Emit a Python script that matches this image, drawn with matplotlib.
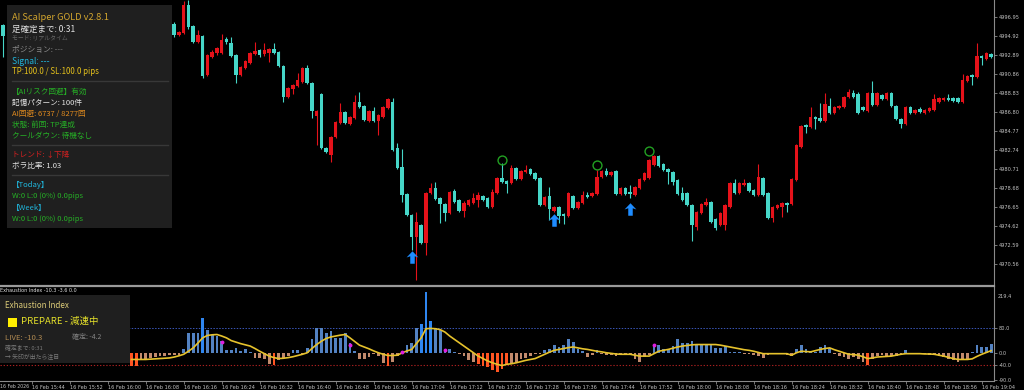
import numpy as np
import matplotlib
matplotlib.use('Agg')
import matplotlib.pyplot as plt
from matplotlib.patches import Rectangle
from matplotlib.path import Path
from matplotlib.lines import Line2D

plt.rcParams['font.family'] = ['Noto Sans CJK JP', 'DejaVu Sans']

nan = float('nan')

# ---------------- data ----------------
first_bar = -6          # bar index relative to 16 Feb 15:44 (1-minute bars)
HID = [nan] * 35        # bars hidden behind the info panel

opens = [4996.10] + HID + [
    4996.20, 4995.04, 4995.25, 4998.24, 4995.99, 4994.29, 4994.93, 4990.76, 4992.68, 4993.11,
    4993.11, 4994.61, 4994.18, 4992.90, 4990.76, 4991.51, 4992.04, 4993.00, 4993.43, 4993.00,
    4993.11, 4993.54, 4993.22, 4991.72, 4988.41, 4989.27, 4989.59, 4990.01, 4991.51, 4989.91,
    4986.38, 4988.73, 4982.96, 4982.22, 4984.14, 4985.63, 4986.81, 4985.52, 4986.16, 4987.88,
    4987.45, 4985.84, 4986.91, 4985.84, 4986.27, 4987.23, 4987.88, 4982.96, 4980.93, 4978.05,
    4975.81, 4973.46, 4974.74, 4972.82, 4978.16, 4978.70, 4977.63, 4976.98, 4976.02, 4978.38,
    4977.41, 4976.24, 4976.88, 4977.09, 4977.41, 4977.84, 4977.63, 4976.66, 4978.16, 4979.76,
    4979.44, 4979.23, 4980.82, 4979.65, 4980.40, 4980.72, 4980.29, 4979.76, 4976.88, 4977.84,
    4976.24, 4976.66, 4975.91, 4975.70, 4977.84, 4976.55, 4977.09, 4977.94, 4977.84, 4978.05,
    4979.86, 4980.50, 4980.08, 4980.50, 4978.05, 4978.70, 4978.27, 4977.94, 4978.70, 4979.55,
    4979.76, 4981.15, 4982.11, 4981.25, 4980.72, 4980.40, 4979.55, 4978.16, 4978.16, 4976.88,
    4974.52, 4976.02, 4976.88, 4977.20, 4975.38, 4974.74, 4974.74, 4976.66, 4979.23, 4978.16,
    4979.01, 4979.23, 4978.48, 4977.94, 4979.76, 4978.16, 4975.49, 4976.55, 4976.66, 4977.09,
    4976.98, 4979.55, 4983.07, 4985.42, 4985.20, 4986.27, 4986.16, 4985.84, 4987.45, 4986.70,
    4987.23, 4987.34, 4988.41, 4988.84, 4988.73, 4987.34, 4986.91, 4988.84, 4987.55, 4988.62,
    4988.20, 4988.84, 4987.45, 4986.06, 4985.52, 4987.34, 4986.70, 4987.13, 4986.70, 4986.91,
    4987.02, 4987.88, 4988.09, 4988.31, 4988.31, 4988.31, 4987.88, 4990.12, 4990.76, 4990.55,
    4992.79, 4992.47, 4993.00]

highs = [4996.20] + HID + [
    4996.42, 4995.46, 4998.66, 4998.77, 4996.10, 4995.57, 4995.04, 4993.00, 4993.43, 4993.75,
    4995.14, 4994.82, 4994.82, 4993.00, 4991.72, 4992.36, 4993.22, 4994.29, 4993.54, 4994.18,
    4993.64, 4994.18, 4993.32, 4991.83, 4989.48, 4989.80, 4990.97, 4991.61, 4991.83, 4990.01,
    4987.02, 4988.84, 4983.07, 4984.25, 4985.84, 4987.77, 4986.91, 4986.38, 4988.62, 4988.94,
    4987.55, 4987.02, 4987.34, 4986.59, 4987.45, 4988.31, 4988.31, 4983.50, 4982.86, 4978.16,
    4975.91, 4976.13, 4974.84, 4978.27, 4979.23, 4979.34, 4977.73, 4977.09, 4978.38, 4978.59,
    4977.52, 4977.30, 4977.52, 4978.16, 4978.27, 4977.94, 4977.73, 4978.59, 4979.86, 4981.36,
    4979.55, 4981.15, 4980.93, 4980.61, 4981.15, 4980.82, 4980.40, 4979.86, 4977.84, 4978.80,
    4976.77, 4976.77, 4976.02, 4978.27, 4977.94, 4977.30, 4978.38, 4978.27, 4978.27, 4980.61,
    4980.61, 4980.82, 4980.50, 4980.61, 4978.80, 4978.80, 4979.01, 4978.91, 4979.76, 4980.40,
    4981.79, 4982.22, 4982.22, 4981.36, 4980.82, 4980.50, 4979.65, 4978.80, 4978.27, 4976.98,
    4976.24, 4977.09, 4977.63, 4977.30, 4975.49, 4976.13, 4976.98, 4979.33, 4979.65, 4979.33,
    4979.65, 4979.33, 4978.59, 4981.25, 4979.86, 4978.27, 4976.77, 4976.98, 4977.20, 4977.20,
    4979.76, 4983.39, 4985.42, 4985.52, 4987.34, 4986.38, 4987.77, 4988.84, 4988.31, 4987.45,
    4987.55, 4988.52, 4989.27, 4989.16, 4988.94, 4987.45, 4988.94, 4990.12, 4988.94, 4988.73,
    4988.94, 4988.94, 4987.55, 4986.16, 4987.45, 4987.45, 4987.13, 4987.34, 4987.13, 4987.34,
    4988.73, 4988.41, 4988.41, 4988.73, 4988.41, 4988.41, 4990.87, 4990.76, 4990.87, 4994.18,
    4992.90, 4993.22, 4993.11]

lows = [4992.68] + HID + [
    4994.82, 4994.93, 4995.14, 4995.67, 4994.18, 4994.18, 4990.44, 4990.65, 4992.58, 4992.90,
    4993.00, 4994.07, 4992.68, 4989.91, 4990.65, 4991.40, 4991.93, 4992.90, 4992.68, 4992.79,
    4992.15, 4993.00, 4991.61, 4987.88, 4988.31, 4988.73, 4989.48, 4989.91, 4989.80, 4986.16,
    4983.29, 4982.86, 4982.43, 4981.47, 4984.03, 4985.52, 4985.52, 4985.42, 4986.06, 4987.23,
    4985.84, 4985.74, 4985.74, 4984.35, 4986.16, 4987.13, 4982.64, 4980.72, 4977.20, 4975.70,
    4972.07, 4968.87, 4972.71, 4971.54, 4978.05, 4977.41, 4974.95, 4975.17, 4975.91, 4977.09,
    4976.13, 4975.59, 4976.77, 4976.98, 4976.66, 4977.30, 4976.55, 4976.55, 4978.05, 4979.23,
    4978.16, 4979.12, 4979.55, 4979.55, 4980.29, 4980.08, 4979.55, 4976.77, 4976.77, 4975.27,
    4976.13, 4974.95, 4974.84, 4975.59, 4976.45, 4976.45, 4976.98, 4977.63, 4977.73, 4977.94,
    4979.76, 4979.97, 4979.97, 4977.94, 4977.94, 4977.94, 4977.63, 4977.84, 4978.59, 4979.44,
    4979.65, 4981.04, 4980.93, 4980.50, 4979.12, 4979.01, 4977.94, 4977.30, 4976.77, 4973.03,
    4974.21, 4975.91, 4976.77, 4974.95, 4974.21, 4974.63, 4974.21, 4976.55, 4978.05, 4978.05,
    4978.91, 4978.27, 4977.84, 4977.84, 4977.84, 4975.38, 4975.06, 4976.45, 4975.59, 4976.13,
    4976.88, 4979.44, 4982.96, 4984.57, 4985.10, 4984.99, 4985.74, 4985.74, 4986.59, 4986.59,
    4987.13, 4987.23, 4988.31, 4988.31, 4986.59, 4986.91, 4986.81, 4987.45, 4987.45, 4988.09,
    4988.09, 4987.34, 4985.95, 4985.10, 4985.42, 4986.59, 4986.59, 4986.70, 4986.59, 4986.81,
    4986.91, 4987.77, 4987.98, 4987.98, 4987.88, 4987.77, 4987.77, 4990.01, 4989.69, 4990.44,
    4991.83, 4992.36, 4992.58]

closes = [4994.93] + HID + [
    4995.04, 4995.36, 4998.24, 4995.88, 4994.29, 4995.04, 4990.65, 4992.90, 4993.22, 4993.64,
    4994.50, 4994.29, 4992.79, 4990.76, 4991.61, 4992.25, 4993.11, 4993.32, 4992.90, 4993.43,
    4993.54, 4993.11, 4991.72, 4988.41, 4989.37, 4989.69, 4990.23, 4991.51, 4989.91, 4986.91,
    4986.91, 4982.96, 4982.54, 4984.14, 4985.74, 4986.81, 4985.63, 4986.27, 4987.88, 4987.34,
    4985.95, 4986.91, 4985.84, 4986.49, 4987.34, 4988.20, 4982.75, 4980.82, 4977.94, 4975.81,
    4973.46, 4975.06, 4972.82, 4978.16, 4978.70, 4977.52, 4976.98, 4976.02, 4978.27, 4977.20,
    4976.24, 4977.09, 4977.41, 4977.63, 4977.94, 4977.41, 4976.66, 4978.27, 4979.76, 4979.33,
    4979.12, 4980.82, 4979.65, 4980.50, 4980.61, 4980.18, 4979.65, 4976.88, 4977.73, 4976.45,
    4976.66, 4975.70, 4975.70, 4978.16, 4976.55, 4977.20, 4977.94, 4977.73, 4978.16, 4979.86,
    4980.50, 4980.08, 4980.40, 4978.05, 4978.70, 4978.05, 4978.05, 4978.80, 4979.65, 4980.29,
    4981.68, 4982.11, 4981.04, 4980.61, 4980.40, 4979.33, 4978.05, 4977.41, 4976.88, 4974.74,
    4976.13, 4976.98, 4977.20, 4975.06, 4974.42, 4976.02, 4976.88, 4979.23, 4978.16, 4979.23,
    4979.23, 4978.38, 4977.94, 4979.86, 4977.94, 4975.49, 4976.66, 4976.88, 4977.09, 4976.88,
    4979.65, 4983.29, 4985.31, 4985.20, 4986.27, 4986.06, 4985.84, 4987.66, 4986.70, 4987.34,
    4987.45, 4988.41, 4988.94, 4988.41, 4986.70, 4987.02, 4988.84, 4987.55, 4988.84, 4988.20,
    4988.84, 4987.45, 4986.06, 4985.52, 4987.34, 4986.70, 4987.02, 4986.81, 4987.02, 4987.23,
    4988.20, 4988.31, 4988.31, 4988.09, 4987.98, 4987.88, 4990.23, 4990.65, 4990.55, 4992.79,
    4992.58, 4993.11, 4992.68]

# signal markers on the price chart
circle_bars = [99, 119, 130]
circle_prices = [4981.68, 4981.15, 4982.64]
arrow_bars = [80, 110, 126]
arrow_prices = [4971.32, 4975.27, 4976.45]

price_ticks = [4996.95, 4994.92, 4992.89, 4990.86, 4988.83, 4986.80, 4984.77,
               4982.74, 4980.71, 4978.68, 4976.65, 4974.62, 4972.59, 4970.56]

# Exhaustion Index histogram (hidden part behind the box = nan)
HID2 = [nan] * 27
exh_hist = HID2 + [
    -45, -42, -25, -20, -18, -15, -12, -10, -8, -8,
    -6, 14, 65, 65, 65, 115, 76, 60, 55, 38,
    8, 8, 16, 5, 11, 2, -16, -16, -22, -36,
    -40, -25, -16, -11, 8, 8, -3, 16, 44, 82,
    80, 65, 73, 49, 49, 65, 33, 5, -22, -22,
    -14, -5, -11, -33, -42, -30, -11, 3, 27, 33,
    80, 95, 200, 104, 82, 75, 12, 14, 2, -5,
    -11, -25, -30, -38, -44, -47, -58, -62, -55, -40,
    -35, -30, -22, -16, -11, -5, -3, 8, 14, 27,
    19, 25, 44, 35, 14, 5, -14, -8, 8, -3,
    -8, -8, -11, -8, -5, -5, -19, -30, -14, -8,
    27, 25, 14, 14, 22, 44, 33, 33, 38, 25,
    27, 27, 25, 16, 16, 22, 1, 1, 1, -3,
    -5, -8, -11, -16, -8, -5, -5, -5, -8, -11,
    14, 24, 11, 5, 2, 20, 24, 16, -3, -11,
    -14, -19, -14, -22, -30, -40, -22, -11, -8, -11,
    -11, -11, -3, 8, -2, -2, -5, -5, -8, -8,
    -11, -14, -22, -25, -30, -24, -19, 2, 25, 20,
    20, 30]

exh_signal = HID2 + [
    -22, -22, -22, -22, -21, -20, -19, -18, -17, -14,
    -10, -5, 5, 16, 32, 49, 57, 59, 60, 55,
    49, 40, 35, 30, 26, 22, 14, 5, -3, -11,
    -16, -19, -18, -16, -13, -9, -5, 0, 14, 27,
    38, 47, 52, 55, 58, 60, 49, 37, 25, 19,
    13, 6, 0, -5, -9, -9, -8, 0, 6, 11,
    30, 49, 79, 80, 79, 76, 68, 55, 44, 33,
    22, 11, 0, -11, -19, -27, -33, -38, -42, -38,
    -36, -33, -29, -25, -22, -19, -12, -5, 2, 8,
    11, 14, 17, 19, 16, 13, 11, 8, 5, 3,
    0, -2, -4, -5, -5, -5, -8, -11, -11, -11,
    -3, 5, 8, 11, 15, 19, 22, 24, 26, 27,
    27, 27, 27, 27, 25, 22, 19, 16, 13, 10,
    8, 5, 1, -3, -3, -3, -3, -3, -3, -8,
    0, 5, 4, 3, 7, 11, 14, 16, 10, 5,
    0, -5, -6, -8, -13, -19, -17, -14, -13, -12,
    -11, -8, -5, -3, -3, -3, -3, -4, -4, -5,
    -8, -11, -15, -19, -22, -22, -22, -20, -12, -5,
    1, 7]

dot_bars = [40, 67, 78, 87, 131]
dot_values = [36, 24, 2, 9, 24]

ind_ticks = [80, 0, -40, -90]
ind_top = 219.4
ind_bottom = -92.8

time_tick_bars = list(range(0, 201, 8))
time_labels = ["16 Feb 15:44", "16 Feb 15:52", "16 Feb 16:00", "16 Feb 16:08", "16 Feb 16:16",
               "16 Feb 16:24", "16 Feb 16:32", "16 Feb 16:40", "16 Feb 16:48", "16 Feb 16:56",
               "16 Feb 17:04", "16 Feb 17:12", "16 Feb 17:20", "16 Feb 17:28", "16 Feb 17:36",
               "16 Feb 17:44", "16 Feb 17:52", "16 Feb 18:00", "16 Feb 18:08", "16 Feb 18:16",
               "16 Feb 18:24", "16 Feb 18:32", "16 Feb 18:40", "16 Feb 18:48", "16 Feb 18:56",
               "16 Feb 19:04"]
first_date_label = "16 Feb 2026"

# ---------------- figure ----------------
W, H = 1024, 390
fig = plt.figure(figsize=(10.24, 3.9), dpi=100, facecolor='black')

def fx(px):
    return px / W

def fy(py):
    return 1 - py / H

RED = '#e5121a'
TEAL = '#46d6c8'
AXC = '#8a8a8a'
LBL = '#c4c4c4'
XMIN, XMAX = -6.674, 202.59

ax = fig.add_axes([0, fy(284), fx(994), 284 / H])
ax.set_facecolor('black')
ax.set_xlim(XMIN, XMAX)
ax.set_ylim(4968.44, 4998.77)

t = np.arange(first_bar, first_bar + len(closes))
o = np.array(opens); c = np.array(closes); hi = np.array(highs); lo = np.array(lows)
valid = ~np.isnan(c)
colors = np.where(c >= o, RED, TEAL)
ax.vlines(t[valid], lo[valid], hi[valid], colors=colors[valid], lw=0.8, zorder=2)
bb = np.minimum(o, c)
bh = np.maximum(np.abs(c - o), 0.1)
ax.bar(t[valid], bh[valid], bottom=bb[valid], width=0.72, color=colors[valid],
       linewidth=0, zorder=3)

ax.plot(circle_bars, circle_prices, 'o', mfc='none', mec='#22a022', ms=6.4, mew=1.0, zorder=4)
arrow_path = Path([(0, 1), (0.95, 0.0), (0.36, 0.2), (0.36, -1), (-0.36, -1), (-0.36, 0.2),
                   (-0.95, 0.0), (0, 1)],
                  [Path.MOVETO] + [Path.LINETO] * 6 + [Path.CLOSEPOLY])
ax.plot(arrow_bars, arrow_prices, linestyle='none', marker=arrow_path, color='#1e8cff',
        ms=9, mew=0, zorder=4)

for s in ['top', 'left', 'bottom']:
    ax.spines[s].set_visible(False)
ax.spines['right'].set_color(AXC)
ax.spines['right'].set_linewidth(0.8)
ax.set_xticks([])
ax.yaxis.tick_right()
ax.set_yticks(price_ticks)
ax.set_yticklabels([f"{v:.2f}" for v in price_ticks], fontfamily='DejaVu Sans')
ax.tick_params(axis='y', colors=AXC, labelcolor=LBL, labelsize=3.6, length=2.5,
               width=0.6, pad=0.8)

# ---------------- indicator panel ----------------
ax2 = fig.add_axes([0, fy(381), fx(994), 95 / H])
ax2.set_facecolor('black')
ax2.set_xlim(XMIN, XMAX)
ax2.set_ylim(ind_bottom, ind_top)
hv = np.array(exh_hist, dtype=float)
hcol = []
for v in hv:
    if np.isnan(v):
        hcol.append('none')
    elif v >= 95:
        hcol.append('#2f86f0')
    elif v > 0:
        hcol.append('#5382c2')
    elif v <= -37:
        hcol.append('#ff5522')
    else:
        hcol.append('#c28a6c')
hv_ok = ~np.isnan(hv)
ax2.bar(t[hv_ok], hv[hv_ok], width=0.55, color=np.array(hcol)[hv_ok], linewidth=0, zorder=2)
ax2.axhline(80, color='#3a56b8', lw=0.7, ls=(0, (1.5, 1.5)), zorder=1)
ax2.axhline(-40, color='#a82020', lw=0.8, ls=(0, (1.2, 1.6)), zorder=1)
ax2.plot(t, np.array(exh_signal, dtype=float), color='#e6c22c', lw=1.2, zorder=3)
ax2.plot(dot_bars, dot_values, 'o', color='#e020e0', ms=2.8, mew=0, zorder=4)

ax2.spines['left'].set_visible(False)
for s in ['right', 'bottom']:
    ax2.spines[s].set_color(AXC)
    ax2.spines[s].set_linewidth(0.8)
ax2.spines['top'].set_color('#9a9a9a')
ax2.spines['top'].set_linewidth(1.6)
ax2.yaxis.tick_right()
ax2.set_yticks(ind_ticks)
ax2.set_yticklabels([f"{v:.1f}" for v in ind_ticks], fontfamily='DejaVu Sans')
ax2.tick_params(axis='y', colors=AXC, labelcolor=LBL, labelsize=3.6, length=2.5,
                width=0.6, pad=0.8)
ax2.annotate(f"{ind_top:.1f}", xy=(1, ind_top), xycoords=('axes fraction', 'data'),
             xytext=(4, -11), textcoords='offset pixels', va='center', ha='left',
             fontsize=3.6, color=LBL, family='DejaVu Sans', annotation_clip=False)
ax2.set_xticks(time_tick_bars)
ax2.set_xticklabels(time_labels, fontfamily='DejaVu Sans')
for lbl in ax2.get_xticklabels():
    lbl.set_ha('left')
ax2.tick_params(axis='x', colors=AXC, labelcolor=LBL, labelsize=3.6, length=2.5,
                width=0.6, pad=0.6)
fig.text(fx(0.5), fy(384.2), first_date_label, ha='left', va='top', fontsize=3.3,
         color=LBL, family='DejaVu Sans')

fig.text(fx(0.5), fy(290), "Exhaustion Index -10.3 -3.6 0.0", fontsize=3.5, color='#e0e0e0',
         va='center', ha='left', family='DejaVu Sans')

# ---------------- info panel (top-left) ----------------
fig.add_artist(Rectangle((fx(7), fy(228)), fx(165), 223 / H, transform=fig.transFigure,
                         facecolor='#1f1f1f', edgecolor='none', zorder=5))
GOLD = '#d2a52e'; WHITE = '#e4e4e4'; GREEN = '#26b026'; CYAN = '#20b6dc'
lines = [
    (17, "AI Scalper GOLD v2.8.1", GOLD, 6.7),
    (29, "足確定まで: 0:31", WHITE, 6.1),
    (38.5, "モード: リアルタイム", '#666666', 4.2),
    (50, "ポジション: ---", '#8a8a8a', 5.6),
    (61, "Signal: ---", CYAN, 6.1),
    (72, "TP:100.0 / SL:100.0 pips", '#e6c21c', 5.7),
    (92, "【AIリスク回避】有効", GREEN, 5.5),
    (103, "記憶パターン: 100件", WHITE, 5.5),
    (114, "AI回避: 6737 / 8277回", '#e08a1e', 5.5),
    (125, "状態: 前回: TP達成", GREEN, 5.5),
    (136, "クールダウン: 待機なし", GREEN, 5.5),
    (155, "トレンド: ↓下降", '#d42020', 5.5),
    (166, "ボラ比率: 1.03", WHITE, 5.5),
    (185, "【Today】", CYAN, 5.5),
    (196, "W:0 L:0 (0%) 0.0pips", GREEN, 5.5),
    (208, "【Week】", CYAN, 5.5),
    (219, "W:0 L:0 (0%) 0.0pips", GREEN, 5.5),
]
for yy, txt, col, fs in lines:
    fig.text(fx(12), fy(yy), txt, color=col, fontsize=fs, va='center', ha='left', zorder=6)
for yy in [81, 145, 175]:
    fig.add_artist(Line2D([fx(12), fx(168)], [fy(yy), fy(yy)], transform=fig.transFigure,
                          color='#383838', lw=1.0, zorder=6))

# ---------------- Exhaustion Index box ----------------
fig.add_artist(Rectangle((fx(0), fy(363)), fx(130), 68 / H, transform=fig.transFigure,
                         facecolor='#1f1f1f', edgecolor='none', zorder=5))
fig.text(fx(5), fy(305), "Exhaustion Index", color='#dccb78', fontsize=5.8, va='center',
         ha='left', zorder=6)
fig.add_artist(Rectangle((fx(8), fy(327)), fx(9), 9 / H, transform=fig.transFigure,
                         facecolor='#ffee00', edgecolor='none', zorder=6))
fig.text(fx(21), fy(321.5), "PREPARE - 減速中", color='#e6e22a', fontsize=6.8, va='center',
         ha='left', zorder=6)
fig.text(fx(5), fy(338), "LIVE: -10.3", color='#b08a52', fontsize=5.6, va='center',
         ha='left', zorder=6)
fig.text(fx(72), fy(337), "確定: -4.2", color='#858585', fontsize=5.0, va='center',
         ha='left', zorder=6)
fig.text(fx(5), fy(348), "確定まで: 0:31", color='#7a7a7a', fontsize=4.2, va='center',
         ha='left', zorder=6)
fig.text(fx(5), fy(357), "→ 矢印が出たら注目", color='#7a7a7a', fontsize=4.2, va='center',
         ha='left', zorder=6)

fig.savefig('out.png', dpi=100, facecolor='black')
